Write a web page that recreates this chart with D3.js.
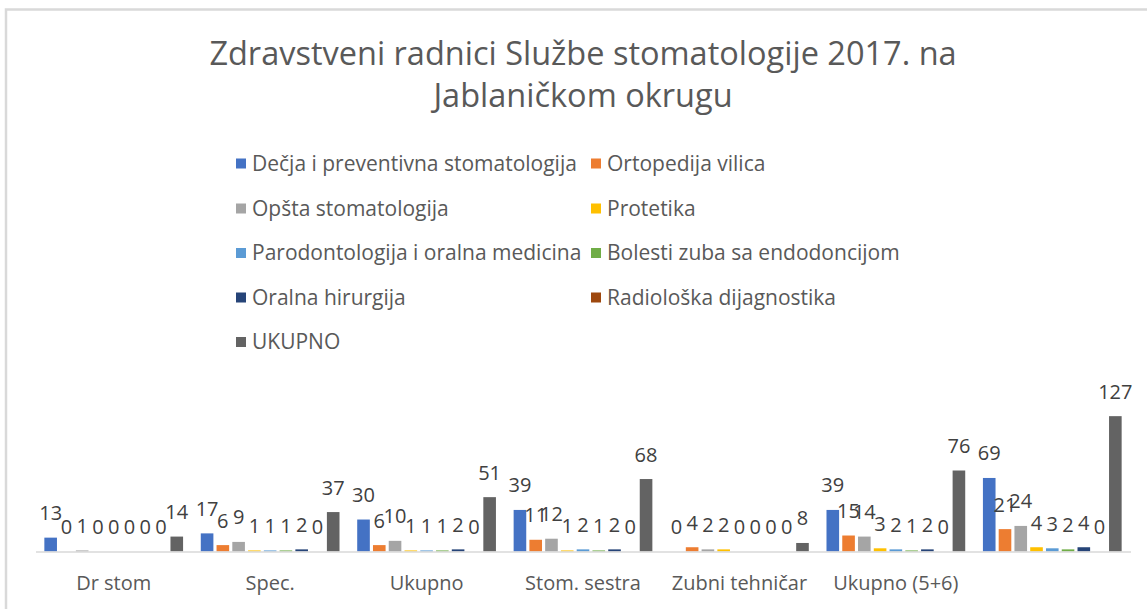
<!DOCTYPE html>
<html>
<head>
<meta charset="utf-8">
<script src="https://cdn.jsdelivr.net/npm/d3@7"></script>
<style>
  html, body { margin: 0; padding: 0; background: #fff; }
  svg { display: block; }
  text { font-family: "Open Sans", "Noto Sans", sans-serif; }
</style>
</head>
<body>
<svg id="chart" width="1147" height="609"></svg>
<script>
// ---- data ----
const categories = ["Dr stom", "Spec.", "Ukupno", "Stom. sestra", "Zubni tehničar", "Ukupno (5+6)", ""];
const seriesNames = [
  "Dečja i preventivna stomatologija",
  "Ortopedija vilica",
  "Opšta stomatologija",
  "Protetika",
  "Parodontologija i oralna medicina",
  "Bolesti zuba sa endodoncijom",
  "Oralna hirurgija",
  "Radiološka dijagnostika",
  "UKUPNO"
];
const decja        = [13, 17, 30, 39, 0, 39, 69];
const ortopedija   = [0, 6, 6, 11, 4, 15, 21];
const opsta        = [1, 9, 10, 12, 2, 14, 24];
const protetika    = [0, 1, 1, 1, 2, 3, 4];
const parodonto    = [0, 1, 1, 2, 0, 2, 3];
const bolesti      = [0, 1, 1, 1, 0, 1, 2];
const oralna       = [0, 2, 2, 2, 0, 2, 4];
const radioloska   = [0, 0, 0, 0, 0, 0, 0];
const ukupno       = [14, 37, 51, 68, 8, 76, 127];
const seriesValues = [decja, ortopedija, opsta, protetika, parodonto, bolesti, oralna, radioloska, ukupno];
const colors = ["#4472C4", "#ED7D31", "#A5A5A5", "#FFC000", "#5B9BD5", "#70AD47", "#264478", "#9E480E", "#636363"];
const titleLines = ["Zdravstveni radnici Službe stomatologije 2017. na", "Jablaničkom okrugu"];

// ---- layout ----
const svg = d3.select("#chart");
const plot = { left: 35.5, right: 1130.5, top: 402.3, bottom: 551.5 };

// chart frame
svg.append("rect")
  .attr("x", 6).attr("y", 9.5)
  .attr("width", 1170).attr("height", 640)
  .attr("fill", "#fff")
  .attr("stroke", "#d9d9d9").attr("stroke-width", 2.5);

// title
svg.append("g").selectAll("text").data(titleLines).join("text")
  .attr("x", 583).attr("y", (d, i) => 65 + i * 42)
  .attr("text-anchor", "middle")
  .attr("font-size", 32.5)
  .attr("fill", "#595959")
  .text(d => d);

// legend
const legendRows = [163.5, 208.5, 253, 297.5, 342];
const legendCols = [236, 591];
const legend = svg.append("g");
seriesNames.forEach((name, i) => {
  const col = i % 2, row = Math.floor(i / 2);
  const g = legend.append("g").attr("transform", `translate(${legendCols[col]},${legendRows[row]})`);
  g.append("rect").attr("x", 0).attr("y", -5).attr("width", 10).attr("height", 10).attr("fill", colors[i]);
  g.append("text").attr("x", 16).attr("y", 7).attr("font-size", 21).attr("fill", "#595959").text(name);
});

// scales
const x0 = d3.scaleBand().domain(categories.map((c, i) => i)).range([plot.left, plot.right]).paddingInner(0).paddingOuter(0);
const x1 = d3.scaleBand().domain(d3.range(seriesNames.length))
  .range([8.85, x0.bandwidth() - 8.85]).paddingInner(0.2).paddingOuter(0);
const y = d3.scaleLinear().domain([0, 140]).range([plot.bottom, plot.top]);

// bars
const groups = svg.append("g").selectAll("g").data(categories).join("g")
  .attr("transform", (d, i) => `translate(${x0(i)},0)`);

groups.each(function (cat, ci) {
  const g = d3.select(this);
  const vals = seriesValues.map((s, si) => ({ si, v: s[ci] }));
  g.selectAll("rect").data(vals).join("rect")
    .attr("x", d => x1(d.si))
    .attr("y", d => y(d.v))
    .attr("width", x1.bandwidth())
    .attr("height", d => y(0) - y(d.v))
    .attr("fill", d => colors[d.si]);
  g.selectAll("text").data(vals).join("text")
    .attr("x", d => x1(d.si) + x1.bandwidth() / 2)
    .attr("y", d => y(d.v) - 17.5)
    .attr("text-anchor", "middle")
    .attr("font-size", 20)
    .attr("fill", "#404040")
    .text(d => d.v);
});

// x axis
const xAxis = d3.axisBottom(x0).tickSize(0).tickPadding(0).tickFormat(i => categories[i]);
const axisG = svg.append("g").attr("transform", `translate(0,${plot.bottom})`).call(xAxis);
axisG.select(".domain").attr("stroke", "#d9d9d9").attr("stroke-width", 1.5);
axisG.selectAll(".tick text")
  .attr("dy", 0).attr("y", 38.5)
  .attr("font-size", 20)
  .attr("font-family", "'Open Sans', sans-serif")
  .attr("fill", "#595959");
</script>
</body>
</html>
